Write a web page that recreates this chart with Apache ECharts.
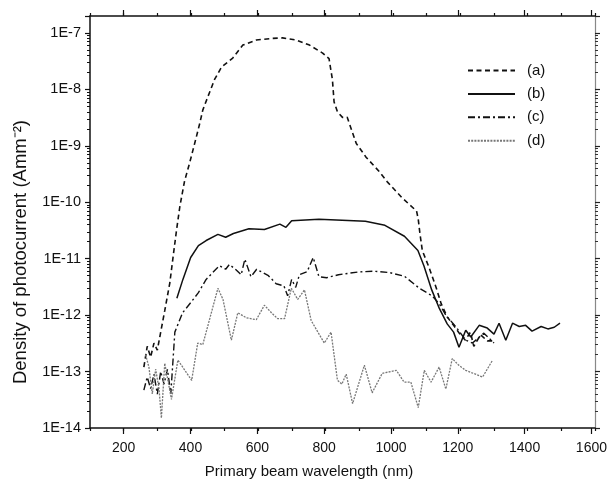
<!DOCTYPE html>
<html>
<head>
<meta charset="utf-8">
<script src="https://cdn.jsdelivr.net/npm/echarts@6/dist/echarts.min.js"></script>
<style>html,body{margin:0;padding:0;background:#fff;}#c{width:610px;height:490px;}</style>
</head>
<body>
<div id="c"></div>
<script>
// ---- data (wavelength nm, photocurrent density A mm^-2) ----
var seriesNames = ['(a)', '(b)', '(c)', '(d)'];
var curveA = [[260,1.2e-13],[270,2.8e-13],[280,1.8e-13],[290,3.2e-13],[300,2.4e-13],[310,5e-13],[322,1.2e-12],[337,3.7e-12],[347,1.1e-11],[357,3.2e-11],[367,8.5e-11],[381,2.4e-10],[396,5e-10],[406,8.5e-10],[416,1.45e-9],[426,2.5e-9],[435,4.3e-9],[450,7.4e-9],[470,1.5e-8],[491,2.5e-8],[524,3.6e-8],[554,6.1e-8],[594,7.5e-8],[640,8e-8],[672,8.2e-8],[713,7.5e-8],[752,6.1e-8],[791,4.4e-8],[810,3.5e-8],[820,1.5e-8],[825,6e-9],[835,4e-9],[850,3.2e-9],[864,3.2e-9],[880,1.7e-9],[891,1.1e-9],[920,6.3e-10],[959,3.5e-10],[983,2.3e-10],[1027,1.2e-10],[1070,7e-11],[1075,5e-11],[1080,2.8e-11],[1087,1.4e-11],[1107,7e-12],[1128,3.1e-12],[1143,1.6e-12],[1161,9.3e-13],[1180,6.6e-13],[1200,4.5e-13],[1215,3.6e-13],[1230,5e-13],[1240,2.8e-13],[1260,4.5e-13],[1280,3.5e-13],[1300,3.5e-13]];
var curveB = [[358,2e-12],[376,4.3e-12],[399,1.05e-11],[422,1.7e-11],[445,2.1e-11],[480,2.7e-11],[503,2.4e-11],[526,2.8e-11],[572,3.4e-11],[618,3.3e-11],[664,4.1e-11],[682,3.6e-11],[699,4.7e-11],[780,5e-11],[849,4.8e-11],[918,4.6e-11],[976,3.9e-11],[1034,2.5e-11],[1074,1.4e-11],[1092,7.4e-12],[1115,2.8e-12],[1138,1.3e-12],[1161,7e-13],[1180,5e-13],[1196,2.7e-13],[1216,5.4e-13],[1231,4.1e-13],[1256,6.6e-13],[1280,5.9e-13],[1300,4.6e-13],[1315,7.2e-13],[1335,3.6e-13],[1355,7.2e-13],[1375,6.3e-13],[1394,6.6e-13],[1413,5.2e-13],[1440,6.3e-13],[1460,5.7e-13],[1479,6.1e-13],[1496,7.2e-13]];
var curveC = [[260,4.7e-14],[270,8e-14],[280,5e-14],[290,9e-14],[300,4e-14],[310,1e-13],[320,6e-14],[330,1.1e-13],[340,4e-14],[352,5e-13],[375,1.1e-12],[399,1.66e-12],[422,2.5e-12],[445,4.3e-12],[474,6.5e-12],[485,7.5e-12],[503,6.5e-12],[514,7.9e-12],[532,6.5e-12],[549,5.2e-12],[560,9.8e-12],[578,4.8e-12],[595,6.5e-12],[630,5e-12],[653,3.6e-12],[676,3.3e-12],[687,2.2e-12],[699,4.3e-12],[711,3.1e-12],[722,5.2e-12],[745,5.9e-12],[763,1.05e-11],[780,4.8e-12],[803,4.6e-12],[838,5.2e-12],[895,5.8e-12],[942,6e-12],[988,5.7e-12],[1034,4.9e-12],[1078,3e-12],[1116,2.2e-12],[1137,1.6e-12],[1157,1e-12],[1187,6.2e-13],[1216,3.6e-13],[1236,3.2e-13],[1270,4.8e-13],[1300,3.2e-13]];
var curveD = [[265,2e-13],[275,1.2e-13],[285,4e-14],[295,1.1e-13],[305,5e-14],[312,1.5e-14],[322,1.4e-13],[342,3.2e-14],[361,1.6e-13],[402,7e-14],[420,3.2e-13],[435,3e-13],[480,3e-12],[495,1.9e-12],[520,3.6e-13],[539,1.1e-12],[564,9e-13],[594,8.3e-13],[618,1.5e-12],[639,1.1e-12],[657,8.7e-13],[678,8.7e-13],[698,3e-12],[717,1.9e-12],[737,2.8e-12],[757,8e-13],[796,3.2e-13],[816,5e-13],[835,7e-14],[848,6e-14],[861,9e-14],[880,2.7e-14],[915,1.3e-13],[938,4.2e-14],[968,9.3e-14],[1010,1.05e-13],[1033,6.5e-14],[1053,6.5e-14],[1075,2.3e-14],[1093,1.05e-13],[1113,6.5e-14],[1137,1.2e-13],[1157,4.9e-14],[1176,1.7e-13],[1195,1.3e-13],[1216,1.05e-13],[1245,9e-14],[1266,8e-14],[1296,1.6e-13]];
var xLabelValues = [200,400,600,800,1000,1200,1400,1600];
var xTitle = 'Primary beam wavelength (nm)';
var yTitle = 'Density of photocurrent (Amm\u207B\u00B2)';

var FONT = 'Liberation Sans';
var chart = echarts.init(document.getElementById('c'), null, {renderer: 'canvas'});
function expLabel(v) {
  var e = Math.log10(v);
  var r = Math.round(e);
  if (Math.abs(e - r) > 1e-6) return '';
  return '1E' + r;
}
var lineCol = '#111';
var option = {
  animation: false,
  backgroundColor: '#fff',
  grid: [
    {left: 90, right: 15, top: 16, bottom: 62},
    {left: 123.67, right: 15, top: 16, bottom: 62}
  ],
  legend: {
    orient: 'vertical', left: 462, top: 58, itemWidth: 47, itemHeight: 14, itemGap: 8.4,
    data: seriesNames,
    itemStyle: {color: 'rgba(0,0,0,0)', borderWidth: 0, opacity: 0},
    textStyle: {fontFamily: FONT, fontSize: 15, color: '#111', padding: [0,0,0,7]}
  },
  xAxis: [
    {type: 'value', gridIndex: 0, position: 'bottom', min: 100, max: 1600, interval: 100,
     axisLine: {show: true, onZero: false, lineStyle: {color: lineCol, width: 1.5}},
     axisTick: {show: true, inside: false, length: 3, lineStyle: {color: lineCol, width: 1.2}},
     axisLabel: {show: false}, splitLine: {show: false}},
    {type: 'value', gridIndex: 0, position: 'top', min: 100, max: 1600, interval: 100,
     axisLine: {show: true, onZero: false, lineStyle: {color: lineCol, width: 1.5}},
     axisTick: {show: true, inside: false, length: 3, lineStyle: {color: lineCol, width: 1.2}},
     axisLabel: {show: false}, splitLine: {show: false}},
    {type: 'value', gridIndex: 1, position: 'bottom', min: xLabelValues[0], max: xLabelValues[xLabelValues.length-1], interval: 200,
     axisLine: {show: false, onZero: false},
     axisTick: {show: true, inside: false, length: 6, lineStyle: {color: lineCol, width: 1.2}},
     axisLabel: {show: true, margin: 13, fontFamily: FONT, fontSize: 14, color: '#111',
                 formatter: function (v) { return String(v); }},
     splitLine: {show: false}},
    {type: 'value', gridIndex: 1, position: 'top', min: xLabelValues[0], max: xLabelValues[xLabelValues.length-1], interval: 200,
     axisLine: {show: false, onZero: false},
     axisTick: {show: true, inside: false, length: 6, lineStyle: {color: lineCol, width: 1.2}},
     axisLabel: {show: false}, splitLine: {show: false}}
  ],
  yAxis: [
    {type: 'log', gridIndex: 0, position: 'left', min: 1e-14, max: 2e-7, logBase: 10,
     axisLine: {show: true, onZero: false, lineStyle: {color: lineCol, width: 1.5}},
     axisTick: {show: true, inside: false, length: 5, lineStyle: {color: lineCol, width: 1.2}},
     minorTick: {show: true, splitNumber: 9, length: 3, lineStyle: {color: lineCol, width: 1}},
     axisLabel: {show: true, margin: 9, fontFamily: FONT, fontSize: 14.5, color: '#111', formatter: expLabel},
     splitLine: {show: false}, minorSplitLine: {show: false}},
    {type: 'log', gridIndex: 0, position: 'right', min: 1e-14, max: 2e-7, logBase: 10,
     axisLine: {show: true, onZero: false, lineStyle: {color: '#888', width: 1.2}},
     axisTick: {show: true, inside: false, length: 5, lineStyle: {color: '#222', width: 1.2}},
     minorTick: {show: true, splitNumber: 9, length: 3, lineStyle: {color: '#333', width: 1}},
     axisLabel: {show: false}, splitLine: {show: false}},
    {type: 'value', gridIndex: 1, min: 0, max: 1, show: false}
  ],
  graphic: [
    {type: 'text', x: 309, y: 472, style: {text: xTitle, fontFamily: FONT, fontSize: 15, fill: '#111', align: 'center', verticalAlign: 'middle'}},
    {type: 'text', x: 21, y: 252, rotation: Math.PI / 2, style: {text: yTitle, fontFamily: FONT, fontSize: 18.5, fill: '#111', align: 'center', verticalAlign: 'middle'}}
  ],
  series: [
    {name: seriesNames[0], type: 'line', xAxisIndex: 0, yAxisIndex: 0, data: curveA, symbol: 'none', smooth: false,
     lineStyle: {color: '#111', width: 1.6, type: [5, 3.5]}, itemStyle: {color: '#111'}},
    {name: seriesNames[1], type: 'line', xAxisIndex: 0, yAxisIndex: 0, data: curveB, symbol: 'none',
     lineStyle: {color: '#111', width: 1.5, type: 'solid'}, itemStyle: {color: '#111'}},
    {name: seriesNames[2], type: 'line', xAxisIndex: 0, yAxisIndex: 0, data: curveC, symbol: 'none',
     lineStyle: {color: '#111', width: 1.4, type: [7, 3, 2, 3]}, itemStyle: {color: '#111'}},
    {name: seriesNames[3], type: 'line', xAxisIndex: 0, yAxisIndex: 0, data: curveD, symbol: 'none',
     lineStyle: {color: '#777', width: 1.3, type: [2, 1.2]}, itemStyle: {color: '#777'}}
  ]
};
chart.setOption(option);
</script>
</body>
</html>
